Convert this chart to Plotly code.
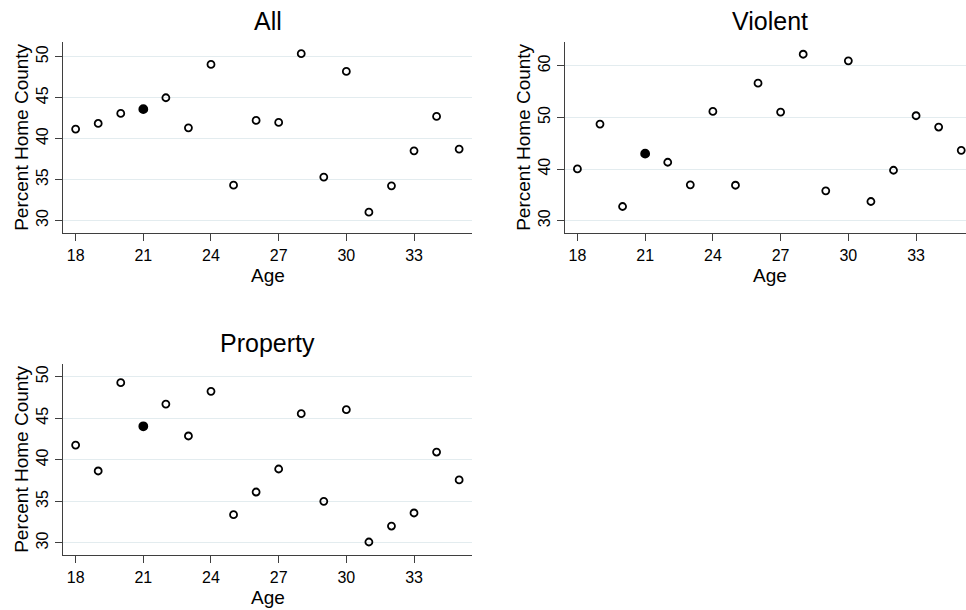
import plotly.graph_objects as go

# Age of respondent (x) and share living in home county (y), by offense type
ages = list(range(18, 36))
all_pct = [41.16, 41.85, 43.08, 43.60, 44.99, 41.32, 49.06, 34.32, 42.22,
           41.98, 50.37, 35.30, 48.21, 31.02, 34.24, 38.51, 42.71, 38.72]
violent_pct = [40.04, 48.73, 32.76, 43.00, 41.33, 36.95, 51.18, 36.88, 56.65,
               51.05, 62.25, 35.79, 60.97, 33.73, 39.78, 50.34, 48.15, 43.64]
property_pct = [41.78, 38.66, 49.28, 44.03, 46.71, 42.87, 48.24, 33.41, 36.13,
                38.90, 45.55, 35.01, 46.03, 30.12, 32.04, 33.61, 40.94, 37.58]
highlight_age = 21

panel_titles = ["All", "Violent", "Property"]
x_ticks = [18, 21, 24, 27, 30, 33]
y_ticks_small = [30, 35, 40, 45, 50]
y_ticks_violent = [30, 40, 50, 60]

W, H = 966, 610
FONT = "Liberation Sans, Arial, Helvetica, sans-serif"
AXIS_COLOR = "#3f3f3f"
GRID_COLOR = "#e3ecef"


def px_x(p):
    return p / W


def px_y(p):
    return 1 - p / H


fig = go.Figure()

series = [all_pct, violent_pct, property_pct]
for i, vals in enumerate(series):
    sfx = "" if i == 0 else str(i + 1)
    symbols = ["circle" if a == highlight_age else "circle-open" for a in ages]
    sizes = [8 if a == highlight_age else 7 for a in ages]
    fig.add_trace(go.Scatter(
        x=ages, y=vals, mode="markers",
        xaxis="x" + sfx, yaxis="y" + sfx,
        marker=dict(symbol=symbols, size=sizes, color="black", opacity=1,
                    line=dict(color="black", width=1.8)),
        showlegend=False, cliponaxis=False,
    ))

# plot regions in pixels: (left, right, top, bottom)
regions = [
    (63, 472, 42.3, 233.3),
    (565, 975, 42.3, 233.3),
    (63, 472, 364.3, 555.3),
]
x_ranges = [[17.44, 35.57], [17.45, 35.61], [17.44, 35.57]]
y_ranges = [[28.44, 51.76], [27.57, 64.56], [28.52, 51.49]]
y_ticks = [y_ticks_small, y_ticks_violent, y_ticks_small]

layout = dict(
    width=W, height=H,
    margin=dict(l=0, r=0, t=0, b=0),
    paper_bgcolor="white", plot_bgcolor="white",
    font=dict(family=FONT, color="black"),
    annotations=[],
)

for i in range(3):
    sfx = "" if i == 0 else str(i + 1)
    l, r, t, b = regions[i]
    xd = [px_x(l), min(px_x(r), 1.0)]
    x_lo, x_hi = x_ranges[i]
    if r > W:
        # the right-hand panel runs past the page edge; keep its scale
        x_hi = x_lo + (x_hi - x_lo) * (W - l) / (r - l)
    layout["xaxis" + sfx] = dict(
        domain=xd, range=[x_lo, x_hi],
        anchor="y" + sfx, tickvals=x_ticks, showline=True,
        linecolor=AXIS_COLOR, linewidth=1.3, ticks="outside", ticklen=7,
        tickwidth=1.2, tickcolor=AXIS_COLOR, showgrid=False, zeroline=False,
        tickfont=dict(size=16, family=FONT, color="black"),
    )
    layout["yaxis" + sfx] = dict(
        domain=[px_y(b), px_y(t)], range=y_ranges[i], anchor="x" + sfx,
        tickvals=y_ticks[i], showline=True, linecolor=AXIS_COLOR,
        linewidth=1.3, ticks="outside", ticklen=7, tickwidth=1.2,
        tickcolor=AXIS_COLOR, showgrid=True, gridcolor=GRID_COLOR,
        gridwidth=1.2, zeroline=False, tickangle=-90,
        tickfont=dict(size=16, family=FONT, color="black"),
    )
    cx = (l + r) / 2
    cy = (t + b) / 2
    layout["annotations"] += [
        dict(text=panel_titles[i], x=px_x(cx), y=px_y(t - 21), xref="paper",
             yref="paper", showarrow=False, xanchor="center", yanchor="middle",
             font=dict(size=25, family=FONT, color="black")),
        dict(text="Age", x=px_x(cx), y=px_y(b + 42), xref="paper",
             yref="paper", showarrow=False, xanchor="center", yanchor="middle",
             font=dict(size=19, family=FONT, color="black")),
        dict(text="Percent Home County", x=px_x(l - 41), y=px_y(cy),
             xref="paper", yref="paper", showarrow=False, textangle=-90,
             xanchor="center", yanchor="middle",
             font=dict(size=19, family=FONT, color="black")),
    ]

fig.update_layout(**layout)
fig.write_html("out.html")
